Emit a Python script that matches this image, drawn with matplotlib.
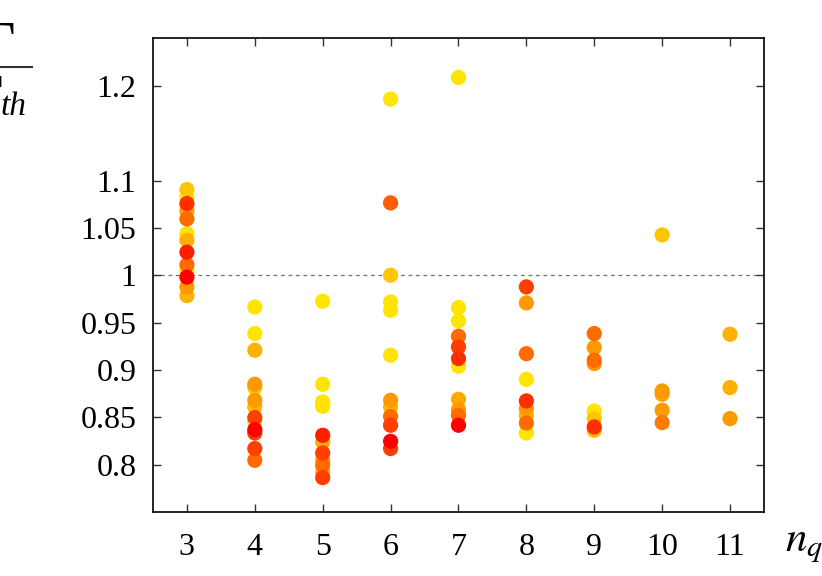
import matplotlib
matplotlib.use("Agg")
import matplotlib.pyplot as plt
from matplotlib.colors import LinearSegmentedColormap
from matplotlib.lines import Line2D

plt.rcParams['font.family'] = ['Liberation Serif', 'DejaVu Serif']
plt.rcParams['mathtext.fontset'] = 'stix'

# data: n_q, ratio, colour value (0 = yellow, 1 = red)
nq_3 = [1.0905, 1.0827, 1.0757, 1.068, 1.0595, 1.044, 1.037, 1.0243, 1.011, 1.0045, 0.998, 0.9877, 0.9785]
c_3 = [0.2, 0.0, 0.85, 0.45, 0.65, 0.0, 0.35, 0.9, 0.65, 0.0, 1.0, 0.5, 0.35]
nq_4 = [0.9665, 0.9384, 0.9208, 0.8849, 0.8814, 0.868, 0.861, 0.8497, 0.846, 0.837, 0.8334, 0.817, 0.8046]
c_4 = [0.0, 0.0, 0.35, 0.5, 0.2, 0.5, 0.3, 0.8, 0.0, 1.0, 0.8, 0.8, 0.65]
nq_5 = [0.9725, 0.8849, 0.8662, 0.8616, 0.831, 0.824, 0.8123, 0.8046, 0.7993, 0.7922, 0.7863]
c_5 = [0.0, 0.0, 0.0, 0.0, 0.9, 0.4, 0.8, 0.45, 0.65, 0.3, 0.8]
nq_6 = [1.186, 1.0764, 1.0, 0.9718, 0.963, 0.9155, 0.868, 0.861, 0.851, 0.8416, 0.8247, 0.817]
c_6 = [0.0, 0.7, 0.2, 0.0, 0.0, 0.0, 0.5, 0.3, 0.65, 0.8, 1.0, 0.8]
nq_7 = [1.2088, 0.9659, 0.9518, 0.9356, 0.9243, 0.912, 0.9039, 0.869, 0.858, 0.852, 0.8416]
c_7 = [0.0, 0.0, 0.0, 0.65, 0.8, 0.85, 0.0, 0.4, 0.5, 0.65, 1.0]
nq_8 = [0.9877, 0.9708, 0.9172, 0.890, 0.8673, 0.859, 0.852, 0.844, 0.8334]
c_8 = [0.8, 0.5, 0.65, 0.0, 0.85, 0.5, 0.3, 0.65, 0.0]
nq_9 = [0.9384, 0.9236, 0.9102, 0.9067, 0.8566, 0.8486, 0.8398, 0.8363]
c_9 = [0.65, 0.5, 0.65, 0.5, 0.0, 0.2, 0.85, 0.3]
nq_10 = [1.0426, 0.8778, 0.8743, 0.8574, 0.8444]
c_10 = [0.2, 0.5, 0.45, 0.5, 0.6]
nq_11 = [0.9377, 0.8814, 0.8486]
c_11 = [0.35, 0.35, 0.5]

groups = {3: (nq_3, c_3), 4: (nq_4, c_4), 5: (nq_5, c_5), 6: (nq_6, c_6),
          7: (nq_7, c_7), 8: (nq_8, c_8), 9: (nq_9, c_9), 10: (nq_10, c_10),
          11: (nq_11, c_11)}

x_ticks = [3, 4, 5, 6, 7, 8, 9, 10, 11]
y_ticks = [0.8, 0.85, 0.9, 0.95, 1.0, 1.05, 1.1, 1.2]
y_tick_labels = ['0.8', '0.85', '0.9', '0.95', '1', '1.05', '1.1', '1.2']

cmap = LinearSegmentedColormap.from_list('yr', ['#ffe400', '#ff9a00', '#ff0000'])

xs, ys, cs = [], [], []
for n, (vals, cols) in groups.items():
    for v, c in zip(vals, cols):
        xs.append(n); ys.append(v); cs.append(c)
order = sorted(range(len(xs)), key=lambda i: cs[i])
xs = [xs[i] for i in order]; ys = [ys[i] for i in order]; cs = [cs[i] for i in order]

W, H = 822, 576
fig = plt.figure(figsize=(W / 100, H / 100), dpi=100)
ax = fig.add_axes([0.1861, 0.1111, 0.7433, 0.8221])
ax.axhline(1.0, color='#707070', lw=0.9, ls=(0, (3, 3)), zorder=1)
ax.scatter(xs, ys, c=cs, cmap=cmap, vmin=0, vmax=1, s=120, linewidths=0, zorder=3)

ax.set_xlim(2.5, 11.5)
ax.set_ylim(0.75, 1.25)
ax.set_xticks(x_ticks)
ax.set_xticklabels([str(t) for t in x_ticks])
ax.set_yticks(y_ticks)
ax.set_yticklabels(y_tick_labels)
ax.tick_params(direction='in', length=6, width=1, top=True, right=True,
               labelsize=23, color='#333333')
ax.tick_params(axis='x', pad=15)
ax.tick_params(axis='y', pad=12)
for s in ax.spines.values():
    s.set_linewidth(1.2)

# x-axis label
fig.text(785 / W, 1 - 551 / H, r'$n_q$', fontsize=31, ha='left', va='baseline')

# y-axis label (fraction, partly outside the figure as in the reference)
fig.add_artist(Line2D([0, 31.7 / W], [1 - 66.7 / H] * 2, lw=1.5, color='#333333'))
fig.text(15 / W, 1 - 62.5 / H, '\u0393', fontsize=43, ha='right', va='baseline')
fig.text(3 / W, 1 - 115 / H, '\u0393', fontsize=43, ha='right', va='baseline')
fig.text(0.5 / W, 1 - 115 / H, 'th', fontsize=24, style='italic', ha='left', va='baseline')

fig.savefig('out.png', dpi=100)
